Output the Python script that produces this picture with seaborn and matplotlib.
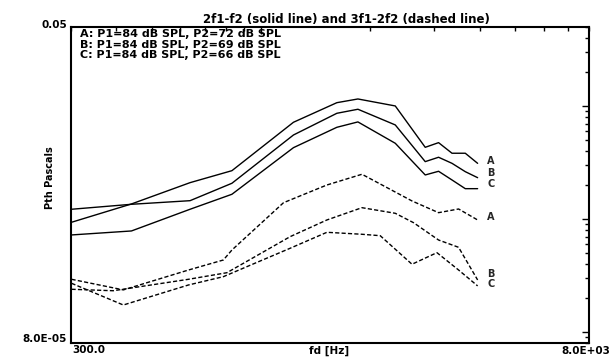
import matplotlib
matplotlib.use("Agg")
import matplotlib.pyplot as plt
import seaborn as sns
import pandas as pd
from matplotlib.ticker import NullFormatter, LogLocator

# ---- data ----
solid_f = [301, 440, 638, 832, 1229, 1618, 1849, 2343, 2833, 3083, 3357, 3652, 3949]
solid_A = [9.36e-4, 1.359e-3, 2.098e-3, 2.678e-3, 7.18e-3, 1.070e-2, 1.154e-2, 1.001e-2,
           4.31e-3, 4.74e-3, 3.82e-3, 3.82e-3, 3.11e-3]
solid_B = [1.220e-3, 1.350e-3, 1.453e-3, 2.072e-3, 5.54e-3, 8.62e-3, 9.36e-3, 6.80e-3,
           3.22e-3, 3.52e-3, 3.11e-3, 2.624e-3, 2.322e-3]
solid_C = [7.23e-4, 7.84e-4, 1.220e-3, 1.656e-3, 4.28e-3, 6.48e-3, 7.23e-3, 4.68e-3,
           2.454e-3, 2.645e-3, 2.216e-3, 1.856e-3, 1.856e-3]

dashA_f = [301, 418, 632, 788, 832, 1154, 1519, 1897, 2605, 3083, 3500, 3949]
dashA = [2.93e-4, 2.36e-4, 3.54e-4, 4.34e-4, 5.32e-4, 1.395e-3, 2.00e-3, 2.489e-3,
         1.445e-3, 1.138e-3, 1.227e-3, 9.81e-4]
dashB_f = [301, 392, 632, 806, 1203, 1519, 1897, 2343, 2631, 3083, 3500, 3949]
dashB = [2.39e-4, 2.32e-4, 2.93e-4, 3.35e-4, 6.98e-4, 9.81e-4, 1.260e-3, 1.124e-3,
         9.28e-4, 6.52e-4, 5.62e-4, 2.89e-4]
dashC_f = [301, 418, 632, 788, 1203, 1519, 1897, 2130, 2605, 3051, 3500, 3949]
dashC = [2.70e-4, 1.735e-4, 2.61e-4, 3.09e-4, 5.51e-4, 7.63e-4, 7.33e-4, 7.12e-4,
         3.98e-4, 5.04e-4, 3.54e-4, 2.56e-4]

series_labels = ["A", "B", "C"]
legend_lines = ["A: P1=84 dB SPL, P2=72 dB SPL",
                "B: P1=84 dB SPL, P2=69 dB SPL",
                "C: P1=84 dB SPL, P2=66 dB SPL"]
title_text = "2f1-f2 (solid line) and 3f1-2f2 (dashed line)"
x_label = "fd [Hz]"
y_label = "Pth Pascals"
x_range = [300, 8000]
y_range = [8.0e-5, 0.05]
x_tick_labels = ["300.0", "8.0E+03"]
y_tick_labels = ["8.0E-05", "0.05"]

sns.set_style("white")
plt.rcParams['font.family'] = ['DejaVu Sans']

W, H = 611, 357
fig = plt.figure(figsize=(W / 100, H / 100), dpi=100)
L, R, T, B = 71, 589, 27, 343
ax = fig.add_axes([L / W, 1 - B / H, (R - L) / W, (B - T) / H])

solid_sets = [(solid_f, solid_A), (solid_f, solid_B), (solid_f, solid_C)]
dash_sets = [(dashA_f, dashA), (dashB_f, dashB), (dashC_f, dashC)]

for (fx, vy) in solid_sets:
    df = pd.DataFrame({"f": fx, "v": vy})
    sns.lineplot(data=df, x="f", y="v", ax=ax, color="black", lw=1.0,
                 sort=False, estimator=None)
for (fx, vy) in dash_sets:
    df = pd.DataFrame({"f": fx, "v": vy})
    sns.lineplot(data=df, x="f", y="v", ax=ax, color="black", lw=1.0,
                 sort=False, estimator=None)
    ax.lines[-1].set_dashes([3, 1.6])

ax.set_xscale("log")
ax.set_yscale("log")
ax.set_xlim(*x_range)
ax.set_ylim(*y_range)
ax.set_xlabel("")
ax.set_ylabel("")
ax.xaxis.set_major_locator(LogLocator(base=10))
ax.xaxis.set_minor_locator(LogLocator(base=10, subs=range(2, 10)))
ax.yaxis.set_major_locator(LogLocator(base=10))
ax.yaxis.set_minor_locator(LogLocator(base=10, subs=range(2, 10)))
ax.xaxis.set_major_formatter(NullFormatter())
ax.xaxis.set_minor_formatter(NullFormatter())
ax.yaxis.set_major_formatter(NullFormatter())
ax.yaxis.set_minor_formatter(NullFormatter())
ax.tick_params(which="both", direction="in", top=True, right=True,
               color="black", width=1.0)
ax.tick_params(which="major", length=5)
ax.tick_params(which="minor", length=3)
for s in ax.spines.values():
    s.set_linewidth(1.5)
    s.set_color("black")
    s.set_visible(True)

# end labels for series
offs_solid = [1.7, 3.2, 3.2]
offs_dash = [2.0, 4.1, 1.4]
for (fx, vy), lab, dy in zip(solid_sets, series_labels, offs_solid):
    ax.annotate(lab, xy=(fx[-1], vy[-1]), xytext=(7, dy), textcoords="offset points",
                ha="left", va="center", fontsize=7, fontweight="bold")
for (fx, vy), lab, dy in zip(dash_sets, series_labels, offs_dash):
    ax.annotate(lab, xy=(fx[-1], vy[-1]), xytext=(7, dy), textcoords="offset points",
                ha="left", va="center", fontsize=7, fontweight="bold")

bold = dict(fontweight="bold", color="black")
fig.text(346 / W, 1 - 20 / H, title_text, ha="center", va="center", fontsize=8.5, **bold)
for i, (txt, yy) in enumerate(zip(legend_lines, [34, 44.5, 55])):
    fig.text(80 / W, 1 - yy / H, txt, ha="left", va="center", fontsize=8, **bold)

fig.text(67 / W, 1 - 25 / H, y_tick_labels[1], ha="right", va="center", fontsize=7.5, **bold)
fig.text(67 / W, 1 - 339 / H, y_tick_labels[0], ha="right", va="center", fontsize=7.5, **bold)
fig.text(72 / W, 1 - 350 / H, x_tick_labels[0], ha="left", va="center", fontsize=7.5, **bold)
fig.text(610 / W, 1 - 351 / H, x_tick_labels[1], ha="right", va="center", fontsize=7.5, **bold)
fig.text(329 / W, 1 - 351 / H, x_label, ha="center", va="center", fontsize=7.5, **bold)
fig.text(50 / W, 1 - 178 / H, y_label, ha="center", va="center", rotation=90,
         fontsize=7, **bold)

fig.savefig("out.png", dpi=100)
